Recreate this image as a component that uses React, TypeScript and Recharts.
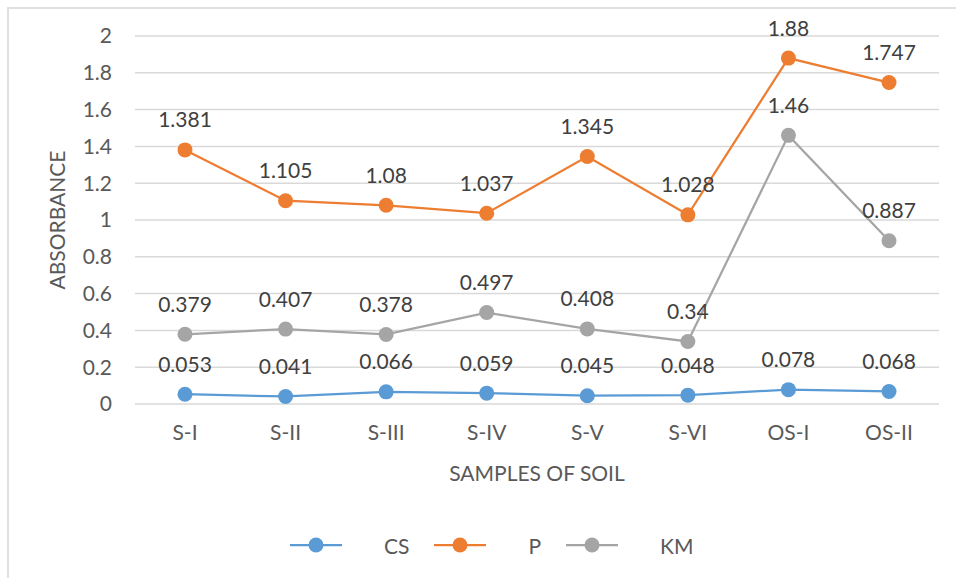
import React from 'react';
import { LineChart, Line, XAxis, YAxis, CartesianGrid, Legend } from 'recharts';

const samples = ['S-I', 'S-II', 'S-III', 'S-IV', 'S-V', 'S-VI', 'OS-I', 'OS-II'];
const csValues = [0.053, 0.041, 0.066, 0.059, 0.045, 0.048, 0.078, 0.068];
const pValues = [1.381, 1.105, 1.08, 1.037, 1.345, 1.028, 1.88, 1.747];
const kmValues = [0.379, 0.407, 0.378, 0.497, 0.408, 0.34, 1.46, 0.887];
const yTicks = [0, 0.2, 0.4, 0.6, 0.8, 1, 1.2, 1.4, 1.6, 1.8, 2];

const seriesList = [
    { key: 'CS', color: '#5B9BD5' },
    { key: 'P', color: '#ED7D31' },
    { key: 'KM', color: '#A5A5A5' },
];

const data = samples.map((name, i) => ({
    name,
    CS: csValues[i],
    P: pValues[i],
    KM: kmValues[i],
}));

const FONT = 'Lato, "Liberation Sans", sans-serif';
const FS = 21;
const TEXT = '#595959';

const ValueLabel = (props: any) => {
    const { x, y, value } = props;
    return (
        <text
            x={x}
            y={y - 31}
            textAnchor="middle"
            dominantBaseline="central"
            fontSize={FS}
            fontFamily={FONT}
            fill="#404040"
        >
            {value}
        </text>
    );
};

const LegendContent = () => (
    <div style={{ height: 30, display: 'flex', alignItems: 'center', fontFamily: FONT, fontSize: FS, color: TEXT }}>
        {seriesList.map((s, i) => (
            <div key={s.key} style={{ display: 'flex', alignItems: 'center', marginLeft: i === 0 ? 290 : 25 }}>
                <svg width={52} height={16}>
                    <line x1={0} y1={8} x2={52} y2={8} stroke={s.color} strokeWidth={2.25} />
                    <circle cx={26} cy={8} r={7.5} fill={s.color} />
                </svg>
                <span style={{ marginLeft: 42 }}>{s.key}</span>
            </div>
        ))}
    </div>
);

export default function App() {
    return (
        <div style={{ position: 'absolute', left: 0, top: 0, width: 956, height: 578, overflow: 'hidden', background: '#fff' }}>
            <div
                style={{
                    position: 'absolute',
                    left: 7,
                    top: 7,
                    width: 1000,
                    height: 600,
                    border: '2px solid #E0E0E0',
                }}
            />
            <div style={{ position: 'absolute', left: 0, top: 0 }}>
                <LineChart width={956} height={578} data={data} margin={{ top: 36, right: 17, left: 0, bottom: 0 }}>
                    <CartesianGrid vertical={false} stroke="#D9D9D9" strokeWidth={1.5} />
                    <XAxis
                        dataKey="name"
                        height={144}
                        padding={{ left: 50, right: 50 }}
                        axisLine={false}
                        tickLine={false}
                        tickMargin={15}
                        tick={{ fontSize: FS, fill: TEXT, fontFamily: FONT }}
                        label={{ value: 'SAMPLES OF SOIL', position: 'center', dy: -2, fontSize: FS, fill: TEXT, fontFamily: FONT }}
                    />
                    <YAxis
                        width={135}
                        domain={[0, 2]}
                        ticks={yTicks}
                        interval={0}
                        axisLine={false}
                        tickLine={false}
                        tickMargin={17}
                        tick={{ fontSize: FS, fill: TEXT, fontFamily: FONT }}
                        label={{ value: 'ABSORBANCE', angle: -90, position: 'center', dx: -10, fontSize: FS, fill: TEXT, fontFamily: FONT }}
                    />
                    <Legend content={<LegendContent />} wrapperStyle={{ top: 530, bottom: 'auto', left: 0, width: 956 }} />
                    {seriesList.map((s) => (
                        <Line
                            key={s.key}
                            dataKey={s.key}
                            stroke={s.color}
                            strokeWidth={2.25}
                            dot={{ r: 7.5, fill: s.color, stroke: s.color, strokeWidth: 0 }}
                            activeDot={false}
                            label={<ValueLabel />}
                            isAnimationActive={false}
                        />
                    ))}
                </LineChart>
            </div>
        </div>
    );
}
